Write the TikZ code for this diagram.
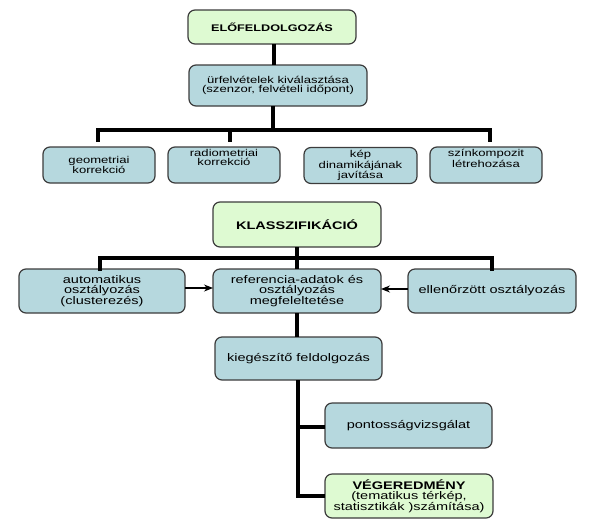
\documentclass[tikz,border=0pt]{standalone}
\usepackage{fontspec}
\setmainfont{Liberation Sans}[FakeStretch=1.32]
\usetikzlibrary{arrows.meta}
\definecolor{boxblue}{RGB}{182,216,222}
\definecolor{boxgreen}{RGB}{222,250,210}
\definecolor{edge}{RGB}{60,60,60}
\tikzset{
  x=1pt, y=-1pt,
  box/.style={draw=edge, line width=1.2pt, rounded corners=7pt, align=center, inner sep=1pt},
  bluebox/.style={box, fill=boxblue},
  greenbox/.style={box, fill=boxgreen},
  small/.style={font=\fontsize{9.9}{9}\selectfont},
  large/.style={font=\fontsize{11}{10.5}\selectfont},
  txt/.style={align=center, inner sep=0pt},
  thickline/.style={line width=4.2pt, draw=black},
  arrowline/.style={line width=1.2pt, draw=black, -{Stealth[length=9pt,width=7pt]}},
}
\begin{document}
\begin{tikzpicture}
\useasboundingbox (0,0) rectangle (599,523);
% upper part
\node[greenbox, minimum width=168pt, minimum height=34pt, font=\fontsize{9.6}{10}\selectfont\bfseries] (pre) at (272,27) {ELŐFELDOLGOZÁS};
\node[bluebox, small, minimum width=178pt, minimum height=41pt] (sel) at (278,85.5) {ürfelvételek kiválasztása\\(szenzor, felvételi időpont)};
\node[bluebox, small, minimum width=112pt, minimum height=36pt] (geo) at (99,165) {geometriai\\korrekció};
\node[bluebox, minimum width=112pt, minimum height=36pt] (rad) at (224,165) {};
\node[txt, small, anchor=north] (radt) at ([yshift=-3pt]rad.north) {radiometriai\\korrekció};
\node[bluebox, small, minimum width=113pt, minimum height=36pt] (kep) at (360.5,165.5) {kép\\dinamikájának\\javítása};
\node[bluebox, minimum width=112pt, minimum height=36pt] (szin) at (486,165) {};
\node[txt, small, anchor=north] (szint) at ([yshift=-3pt]szin.north) {színkompozit\\létrehozása};
% connectors upper
\coordinate (a0) at (274,44);
\coordinate (a1) at (274,65);
\coordinate (s0) at (273,106);
\coordinate (b1) at (273,130);
\coordinate (bl) at (98,130);
\coordinate (br) at (490,130);
\coordinate (bm) at (230,130);
\coordinate (bl2) at (98,142);
\coordinate (br2) at (490,142);
\coordinate (bm2) at (230,142);
\draw[thickline] (a0) -- (a1);
\draw[thickline] (s0) -- (b1);
\draw[thickline, line join=miter] (bl2) -- (bl) -- (br) -- (br2);
\draw[thickline] (bm) -- (bm2);
% lower part
\node[greenbox, minimum width=168pt, minimum height=45pt, font=\fontsize{11}{11}\selectfont\bfseries] (kla) at (297,224.5) {KLASSZIFIKÁCIÓ};
\node[bluebox, large, minimum width=166pt, minimum height=44pt] (aut) at (102,291) {automatikus\\osztályozás\\(clusterezés)};
\node[bluebox, large, minimum width=168pt, minimum height=44pt] (ref) at (297,291) {referencia-adatok és\\osztályozás\\megfeleltetése};
\node[bluebox, large, minimum width=168pt, minimum height=44pt] (ell) at (492,291) {ellenőrzött osztályozás};
\node[bluebox, large, minimum width=167pt, minimum height=43pt] (kie) at (298.5,358.5) {kiegészítő feldolgozás};
\node[bluebox, large, minimum width=167pt, minimum height=45pt] (pon) at (408.5,425.5) {pontosságvizsgálat};
\node[greenbox, large, minimum width=168pt, minimum height=44pt] (veg) at (409,496) {\textbf{VÉGEREDMÉNY}\\(tematikus térkép,\\statisztikák )számítása)};
% connectors lower
\coordinate (k0) at (297,247);
\coordinate (c1) at (297,258);
\coordinate (k1) at (297,269);
\coordinate (cl) at (100,258);
\coordinate (cr) at (492,258);
\coordinate (cl2) at (100,271);
\coordinate (cr2) at (492,271);
\coordinate (r0) at (297,313);
\coordinate (r1) at (297,337);
\coordinate (d0) at (298,380);
\coordinate (d1) at (298,427);
\coordinate (d1e) at (325,427);
\coordinate (d2) at (298,498);
\coordinate (d2a) at (296,496);
\coordinate (d2e) at (325,496);
\draw[thickline] (k0) -- (k1);
\draw[thickline, line join=miter] (cl2) -- (cl) -- (cr) -- (cr2);
\draw[thickline] (r0) -- (r1);
\draw[thickline] (d0) -- (d2);
\draw[thickline] (d1) -- (d1e);
\draw[thickline] (d2a) -- (d2e);
\coordinate (p1) at (185,288);
\coordinate (p2) at (213,288);
\coordinate (q1) at (408,289);
\coordinate (q2) at (381,289);
\draw[arrowline] (p1) -- (p2);
\draw[arrowline] (q1) -- (q2);
\end{tikzpicture}
\end{document}
